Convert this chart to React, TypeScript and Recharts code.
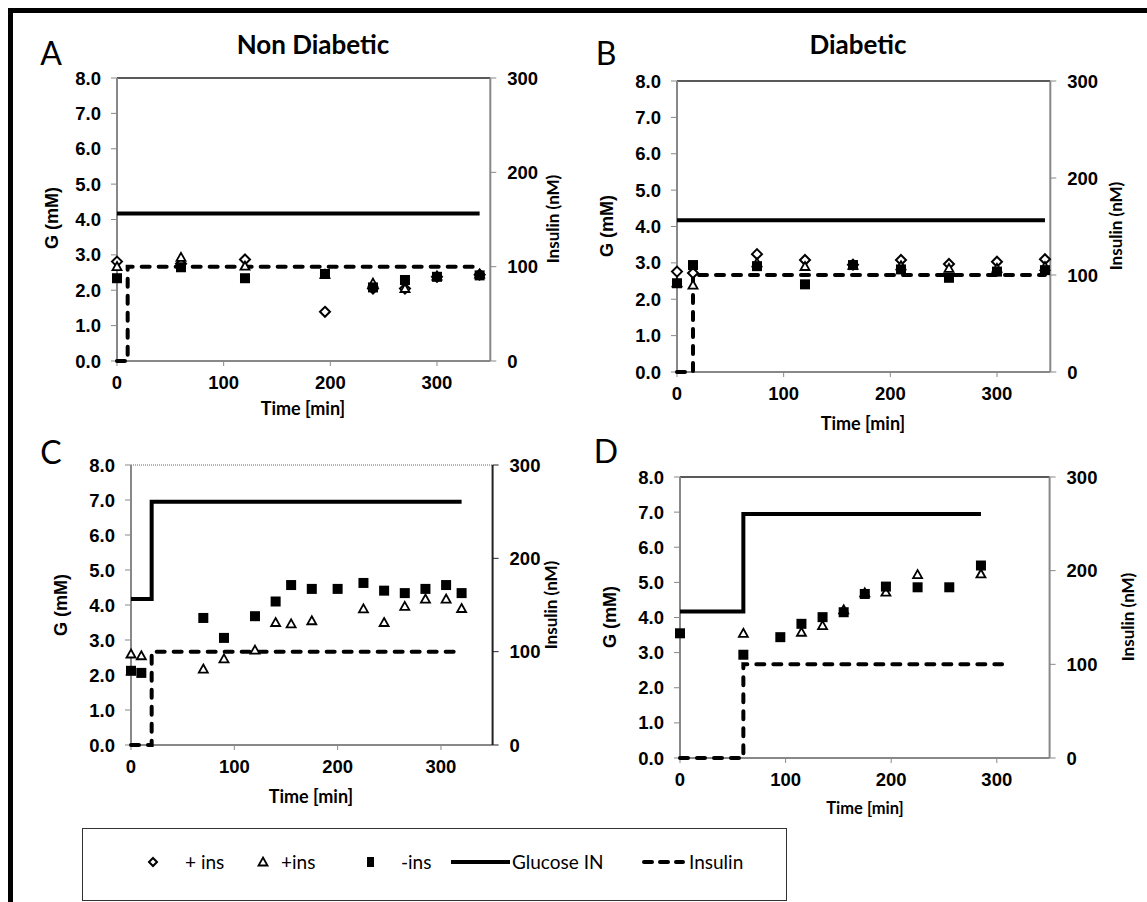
import React from 'react';
import { ComposedChart, Line, Scatter, XAxis, YAxis, ReferenceLine } from 'recharts';

// ---- panel A : non diabetic, constant glucose ----
const aTime = [0, 60, 120, 195, 240, 270, 300, 340];
const aDiamond = [2.81, 2.75, 2.87, 1.39, 2.05, 2.05, 2.38, 2.44];
const aTriangle = [2.67, 2.93, 2.68, 2.45, 2.2, 2.05, 2.4, 2.46];
const aSquare = [2.34, 2.65, 2.34, 2.46, 2.08, 2.29, 2.38, 2.42];
const aGlucoseTime = [0, 340];
const aGlucose = [4.17, 4.17];
const aInsulinTime = [0, 10, 10, 340];
const aInsulin = [0, 0, 100, 100];

// ---- panel B : diabetic, constant glucose ----
const bTime = [0, 15, 75, 120, 165, 210, 255, 300, 345];
const bDiamond = [2.76, 2.72, 3.24, 3.08, 2.95, 3.08, 2.97, 3.03, 3.1];
const bTriangle = [2.45, 2.39, 3.0, 2.9, 2.93, 2.92, 2.85, 2.85, 2.9];
const bSquare = [2.44, 2.94, 2.91, 2.41, 2.94, 2.82, 2.59, 2.76, 2.8];
const bGlucoseTime = [0, 345];
const bGlucose = [4.17, 4.17];
const bInsulinTime = [0, 15, 15, 345];
const bInsulin = [0, 0, 100, 100];

// ---- panel C : non diabetic, glucose step ----
const cTime = [0, 10, 70, 90, 120, 140, 155, 175, 200, 225, 245, 265, 285, 305, 320];
const cTriangle = [2.6, 2.55, 2.17, 2.46, 2.71, 3.5, 3.46, 3.55, null, 3.89, 3.5, 3.96, 4.17, 4.17, 3.9];
const cSquare = [2.12, 2.06, 3.63, 3.06, 3.68, 4.1, 4.57, 4.46, 4.46, 4.63, 4.41, 4.34, 4.46, 4.57, 4.34];
const cGlucoseTime = [0, 20, 20, 320];
const cGlucose = [4.17, 4.17, 6.95, 6.95];
const cInsulinTime = [0, 20, 20, 320];
const cInsulin = [0, 0, 100, 100];

// ---- panel D : diabetic, glucose step ----
const dTime = [0, 60, 95, 115, 135, 155, 175, 195, 225, 255, 285];
const dTriangle = [null, 3.55, null, 3.58, 3.77, 4.22, 4.7, 4.72, 5.22, null, 5.24];
const dSquare = [3.55, 2.94, 3.44, 3.82, 4.01, 4.15, 4.67, 4.88, 4.86, 4.86, 5.48];
const dGlucoseTime = [0, 60, 60, 285];
const dGlucose = [4.17, 4.17, 6.95, 6.95];
const dInsulinTime = [0, 60, 60, 305];
const dInsulin = [0, 0, 100, 100];

const gTicks = [0, 1, 2, 3, 4, 5, 6, 7, 8];
const insTicks = [0, 100, 200, 300];
const timeTicks = [0, 100, 200, 300];

type Pt = { t: number; v: number };
const pts = (ts: number[], vs: (number | null)[]): Pt[] =>
  ts.map((t, i) => ({ t, v: vs[i] })).filter((p) => p.v !== null) as Pt[];

const ARIAL = '"Liberation Sans", Arial, sans-serif';
const CALIBRI = 'Lato, "Open Sans", sans-serif';

const Diamond = (p: any) => {
  const { cx, cy } = p;
  const r = p.r || 5;
  return (
    <path
      d={`M${cx},${cy - r}L${cx + r},${cy}L${cx},${cy + r}L${cx - r},${cy}Z`}
      fill="#fff"
      stroke="#000"
      strokeWidth={2}
    />
  );
};
const Triangle = (p: any) => {
  const { cx, cy } = p;
  return (
    <path
      d={`M${cx},${cy - 4.5}L${cx + 4.5},${cy + 3.5}L${cx - 4.5},${cy + 3.5}Z`}
      fill="#fff"
      stroke="#000"
      strokeWidth={1.8}
    />
  );
};
const Square = (p: any) => <rect x={p.cx - 5} y={p.cy - 5} width={10} height={10} fill="#000" />;

const tickStyle = { fill: '#000', fontSize: 18.5, fontWeight: 700, fontFamily: ARIAL };

interface PanelProps {
  left: number;
  top: number;
  width: number;
  height: number;
  glucose: Pt[];
  insulin: Pt[];
  diamond?: Pt[];
  triangle: Pt[];
  square: Pt[];
  topDotted?: boolean;
  rightColor?: string;
}

function Panel({ left, top, width, height, glucose, insulin, diamond, triangle, square, topDotted, rightColor = '#888' }: PanelProps) {
  return (
    <div style={{ position: 'absolute', left: left - 80, top: top - 10 }}>
      <ComposedChart width={width + 160} height={height + 80} margin={{ top: 10, right: 0, bottom: 0, left: 0 }}>
        <XAxis
          type="number"
          dataKey="t"
          domain={[0, 350]}
          ticks={timeTicks}
          height={70}
          tick={tickStyle}
          tickSize={5}
          tickMargin={10}
          axisLine={{ stroke: '#888', strokeWidth: 2 }}
          tickLine={{ stroke: '#888' }}
        />
        <YAxis
          yAxisId="g"
          domain={[0, 8]}
          ticks={gTicks}
          interval={0}
          width={80}
          tickFormatter={(v: number) => v.toFixed(1)}
          tick={tickStyle}
          tickSize={6}
          tickMargin={10}
          axisLine={{ stroke: '#888', strokeWidth: 2 }}
          tickLine={{ stroke: '#888' }}
        />
        <YAxis
          yAxisId="i"
          orientation="right"
          domain={[0, 300]}
          ticks={insTicks}
          interval={0}
          width={80}
          tick={tickStyle}
          tickSize={6}
          tickMargin={11}
          axisLine={{ stroke: rightColor, strokeWidth: 2 }}
          tickLine={{ stroke: rightColor }}
        />
        <ReferenceLine
          yAxisId="g"
          y={8}
          stroke={topDotted ? '#999' : '#222'}
          strokeWidth={1.5}
          strokeDasharray={topDotted ? '1 1' : undefined}
        />
        <Line
          yAxisId="g"
          data={glucose}
          dataKey="v"
          stroke="#000"
          strokeWidth={4}
          dot={false}
          isAnimationActive={false}
          zIndex={650}
        />
        <Line
          yAxisId="i"
          data={insulin}
          dataKey="v"
          stroke="#000"
          strokeWidth={4}
          strokeDasharray="8 9"
          strokeLinecap="round"
          dot={false}
          isAnimationActive={false}
          zIndex={650}
        />
        {diamond && <Scatter yAxisId="g" data={diamond} dataKey="v" shape={Diamond} isAnimationActive={false} zIndex={700} />}
        <Scatter yAxisId="g" data={triangle} dataKey="v" shape={Triangle} isAnimationActive={false} zIndex={700} />
        <Scatter yAxisId="g" data={square} dataKey="v" shape={Square} isAnimationActive={false} zIndex={700} />
      </ComposedChart>
    </div>
  );
}

function Txt({ x, y, size, bold, family, rot, children }: any) {
  return (
    <div
      style={{
        position: 'absolute',
        left: x,
        top: y,
        transform: `translate(-50%, -50%)${rot ? ' rotate(-90deg)' : ''}`,
        fontSize: size,
        fontWeight: bold ? 700 : 400,
        fontFamily: family,
        whiteSpace: 'nowrap',
        lineHeight: 1,
        color: '#000',
      }}
    >
      {children}
    </div>
  );
}

function Legend() {
  const cy = 33;
  const text = { fontFamily: CALIBRI, fontSize: 19, fill: '#000' };
  return (
    <div
      style={{
        position: 'absolute',
        left: 82,
        top: 828,
        width: 705,
        height: 73,
        boxSizing: 'border-box',
        border: '1.5px solid #333',
      }}
    >
      <svg width={703} height={71} style={{ position: 'absolute', left: 0, top: 0 }}>
        <Diamond cx={70} cy={cy} r={4} />
        <text x={102} y={cy + 7} {...text}>+ ins</text>
        <Triangle cx={180} cy={cy} />
        <text x={198} y={cy + 7} {...text}>+ins</text>
        <rect x={284} y={cy - 5} width={7} height={10} fill="#000" />
        <text x={318} y={cy + 7} {...text}>-ins</text>
        <line x1={368} y1={cy} x2={427} y2={cy} stroke="#000" strokeWidth={4} />
        <text x={429} y={cy + 7} {...text}>Glucose IN</text>
        <line x1={561} y1={cy} x2={600} y2={cy} stroke="#000" strokeWidth={4} strokeDasharray="8 8" strokeLinecap="round" />
        <text x={606} y={cy + 7} {...text}>Insulin</text>
      </svg>
    </div>
  );
}

export default function App() {
  return (
    <div style={{ position: 'absolute', left: 0, top: 0, width: 1147, height: 902, background: '#fff', overflow: 'hidden' }}>
      <div
        style={{
          position: 'absolute',
          left: 8,
          top: 8,
          width: 1139,
          height: 894,
          boxSizing: 'border-box',
          borderTop: '5px solid #000',
          borderLeft: '5px solid #000',
        }}
      />

      <Panel
        left={116.7}
        top={78}
        width={373.3}
        height={283}
        glucose={pts(aGlucoseTime, aGlucose)}
        insulin={pts(aInsulinTime, aInsulin)}
        diamond={pts(aTime, aDiamond)}
        triangle={pts(aTime, aTriangle)}
        square={pts(aTime, aSquare)}
      />
      <Panel
        left={676.7}
        top={81}
        width={373.3}
        height={291}
        glucose={pts(bGlucoseTime, bGlucose)}
        insulin={pts(bInsulinTime, bInsulin)}
        diamond={pts(bTime, bDiamond)}
        triangle={pts(bTime, bTriangle)}
        square={pts(bTime, bSquare)}
      />
      <Panel
        left={130.7}
        top={465}
        width={361.6}
        height={280}
        glucose={pts(cGlucoseTime, cGlucose)}
        insulin={pts(cInsulinTime, cInsulin)}
        triangle={pts(cTime, cTriangle)}
        square={pts(cTime, cSquare)}
        topDotted
        rightColor="#222"
      />
      <Panel
        left={680.4}
        top={477}
        width={369.6}
        height={281}
        glucose={pts(dGlucoseTime, dGlucose)}
        insulin={pts(dInsulinTime, dInsulin)}
        triangle={pts(dTime, dTriangle)}
        square={pts(dTime, dSquare)}
      />

      <Txt x={313} y={44} size={26} bold family={CALIBRI}>Non Diabetic</Txt>
      <Txt x={858} y={44} size={26} bold family={CALIBRI}>Diabetic</Txt>
      <Txt x={51} y={53} size={32} family={CALIBRI}>A</Txt>
      <Txt x={606} y={53} size={32} family={CALIBRI}>B</Txt>
      <Txt x={51} y={452} size={32} family={CALIBRI}>C</Txt>
      <Txt x={606} y={451} size={32} family={CALIBRI}>D</Txt>

      <Txt x={52} y={218} size={18} bold family={ARIAL} rot>G (mM)</Txt>
      <Txt x={607} y={226} size={18} bold family={ARIAL} rot>G (mM)</Txt>
      <Txt x={61} y={605} size={18} bold family={ARIAL} rot>G (mM)</Txt>
      <Txt x={610} y={617} size={18} bold family={ARIAL} rot>G (mM)</Txt>

      <Txt x={552} y={219} size={17} bold family={CALIBRI} rot>Insulin (nM)</Txt>
      <Txt x={1115} y={226} size={17} bold family={CALIBRI} rot>Insulin (nM)</Txt>
      <Txt x={550} y={605} size={17} bold family={CALIBRI} rot>Insulin (nM)</Txt>
      <Txt x={1127} y={617} size={17} bold family={CALIBRI} rot>Insulin (nM)</Txt>

      <Txt x={303} y={408} size={18} bold family={CALIBRI}>Time [min]</Txt>
      <Txt x={863} y={423} size={18} bold family={CALIBRI}>Time [min]</Txt>
      <Txt x={311} y={796} size={18} bold family={CALIBRI}>Time [min]</Txt>
      <Txt x={865} y={808} size={16.5} bold family={CALIBRI}>Time [min]</Txt>

      <Legend />
    </div>
  );
}
